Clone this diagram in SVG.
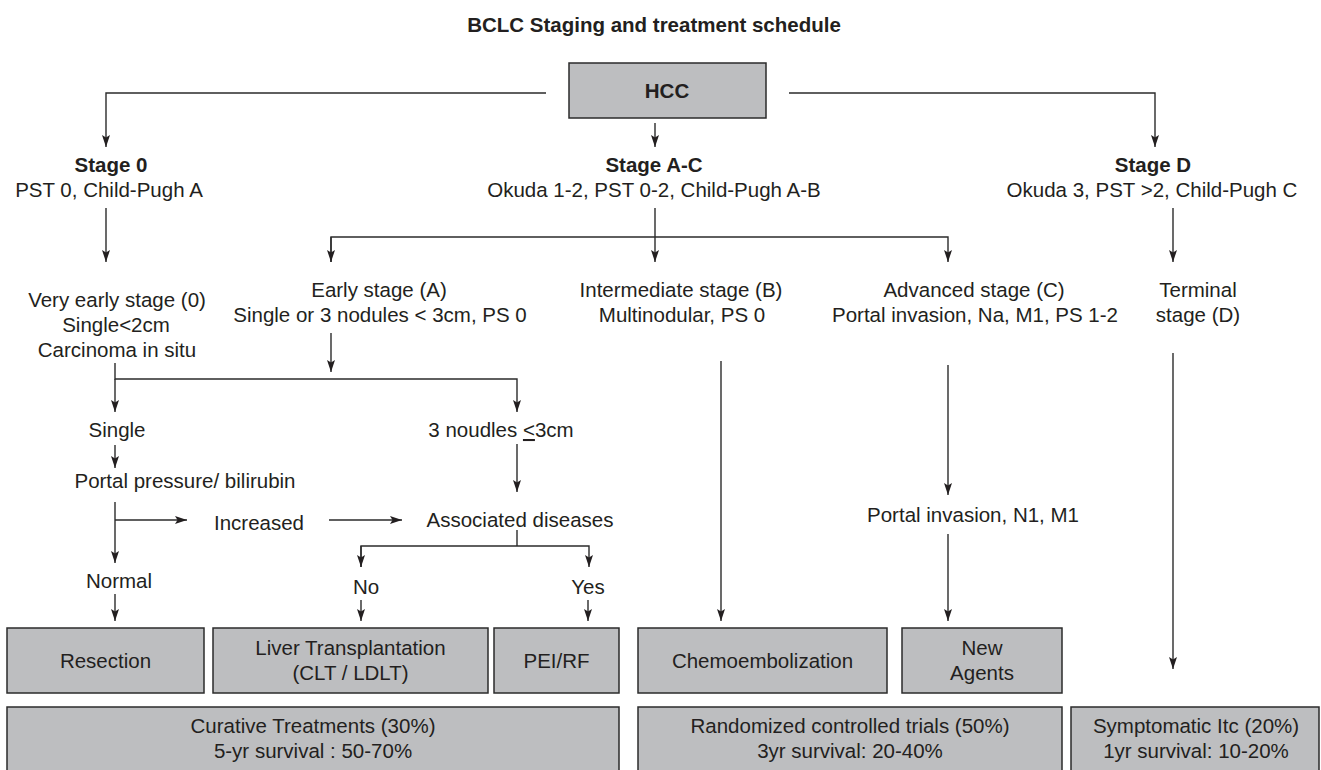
<svg xmlns="http://www.w3.org/2000/svg" width="1321" height="770" viewBox="0 0 1321 770">
<style>
text{font-family:"Liberation Sans",Arial,sans-serif;font-size:20.5px;fill:#231f20;text-anchor:middle}
.b{font-weight:bold}
.box{fill:#bdbec0;stroke:#2b2b2b;stroke-width:1.5}
.c{fill:none;stroke:#2b2b2b;stroke-width:1.4}
.a{marker-end:url(#ah)}
</style>
<defs>
<marker id="ah" markerUnits="userSpaceOnUse" markerWidth="13" markerHeight="9" refX="12" refY="4" orient="auto">
<path d="M0,0 L12,4 L0,8 L2.5,4 z" fill="#231f20"/>
</marker>
</defs>
<rect width="1321" height="770" fill="#ffffff"/>
<text id="title" class="b" x="654" y="32">BCLC Staging and treatment schedule</text>

<g id="connectors">
<polyline class="c a" points="546,93 106,93 106,147"/>
<line class="c a" x1="655" y1="123" x2="655" y2="147"/>
<polyline class="c a" points="789,93 1155,93 1155,147"/>
<line class="c a" x1="106" y1="208" x2="106" y2="262"/>
<line class="c a" x1="655" y1="208" x2="655" y2="262"/>
<polyline class="c a" points="331,262 331,237 948,237 948,262"/>
<line class="c a" x1="331" y1="237" x2="331" y2="262"/>
<line class="c a" x1="1173" y1="208" x2="1173" y2="262"/>
<line class="c a" x1="331" y1="333" x2="331" y2="372"/>
<polyline class="c a" points="115,363 115,379 517,379 517,412"/>
<line class="c a" x1="115" y1="379" x2="115" y2="412"/>
<line class="c a" x1="115" y1="445" x2="115" y2="468"/>
<line class="c a" x1="517" y1="444" x2="517" y2="492"/>
<line class="c a" x1="115" y1="502" x2="115" y2="563"/>
<line class="c a" x1="115" y1="520" x2="187" y2="520"/>
<line class="c a" x1="329" y1="520" x2="402" y2="520"/>
<line class="c" x1="517" y1="530" x2="517" y2="546"/>
<polyline class="c a" points="361,567 361,546 589,546 589,567"/>
<line class="c a" x1="361" y1="546" x2="361" y2="567"/>
<line class="c a" x1="115" y1="594" x2="115" y2="621"/>
<line class="c a" x1="361" y1="600" x2="361" y2="621"/>
<line class="c a" x1="588" y1="600" x2="588" y2="621"/>
<line class="c a" x1="721" y1="361" x2="721" y2="621"/>
<line class="c a" x1="948" y1="365" x2="948" y2="495"/>
<line class="c a" x1="948" y1="534" x2="948" y2="621"/>
<line class="c a" x1="1173" y1="353" x2="1173" y2="669"/>
</g>

<g id="hcc"><rect class="box" x="569" y="63" width="197" height="55"/><text class="b" x="667" y="98">HCC</text></g>

<g id="stage0"><text class="b" x="111" y="172">Stage 0</text><text x="109" y="197">PST 0, Child-Pugh A</text></g>
<g id="stageAC"><text class="b" x="654" y="172">Stage A-C</text><text x="654" y="197">Okuda 1-2, PST 0-2, Child-Pugh A-B</text></g>
<g id="stageD"><text class="b" x="1153" y="172">Stage D</text><text x="1152" y="197">Okuda 3, PST &gt;2, Child-Pugh C</text></g>

<g id="veryearly"><text x="117" y="307">Very early stage (0)</text><text x="116" y="332">Single&lt;2cm</text><text x="117" y="357">Carcinoma in situ</text></g>
<g id="early"><text x="379" y="297">Early stage (A)</text><text x="380" y="322">Single or 3 nodules &lt; 3cm, PS 0</text></g>
<g id="intermediate"><text x="681" y="297">Intermediate stage (B)</text><text x="682" y="322">Multinodular, PS 0</text></g>
<g id="advanced"><text x="974" y="297">Advanced stage (C)</text><text x="975" y="322">Portal invasion, Na, M1, PS 1-2</text></g>
<g id="terminal"><text x="1198" y="297">Terminal</text><text x="1198" y="322">stage (D)</text></g>

<g id="single"><text x="117" y="437">Single</text></g>
<g id="noudles"><text x="501" y="437">3 noudles <tspan text-decoration="underline">&lt;</tspan>3cm</text></g>
<g id="portalpressure"><text x="185" y="488">Portal pressure/ bilirubin</text></g>
<g id="increased"><text x="259" y="530">Increased</text></g>
<g id="associated"><text x="520" y="527">Associated diseases</text></g>
<g id="normal"><text x="119" y="588">Normal</text></g>
<g id="no"><text x="366" y="594">No</text></g>
<g id="yes"><text x="588" y="594">Yes</text></g>
<g id="portalinvasion"><text x="973" y="522">Portal invasion, N1, M1</text></g>

<g id="resection"><rect class="box" x="7" y="628" width="197" height="65"/><text x="105.5" y="668">Resection</text></g>
<g id="liver"><rect class="box" x="213" y="628" width="275" height="65"/><text x="350.5" y="655">Liver Transplantation</text><text x="350.5" y="680">(CLT / LDLT)</text></g>
<g id="pei"><rect class="box" x="494" y="628" width="125" height="65"/><text x="556.5" y="668">PEI/RF</text></g>
<g id="chemo"><rect class="box" x="638" y="628" width="249" height="65"/><text x="762.5" y="668">Chemoembolization</text></g>
<g id="newagents"><rect class="box" x="902" y="628" width="160" height="65"/><text x="982" y="655">New</text><text x="982" y="680">Agents</text></g>

<g id="curative"><rect class="box" x="7" y="707" width="612" height="75"/><text x="313" y="733">Curative Treatments (30%)</text><text x="313" y="758">5-yr survival : 50-70%</text></g>
<g id="rct"><rect class="box" x="638" y="707" width="424" height="75"/><text x="850" y="733">Randomized controlled trials (50%)</text><text x="850" y="758">3yr survival: 20-40%</text></g>
<g id="symptomatic"><rect class="box" x="1071" y="707" width="248" height="75"/><text x="1196" y="733">Symptomatic Itc (20%)</text><text x="1196" y="758">1yr survival: 10-20%</text></g>
</svg>
